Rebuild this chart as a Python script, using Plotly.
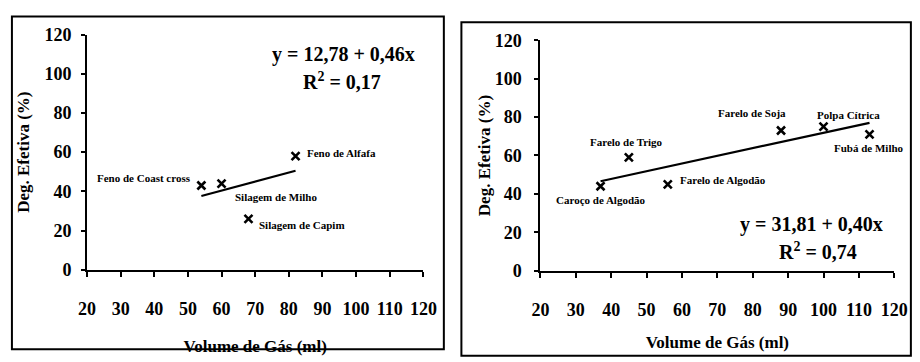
import plotly.graph_objects as go

# --- Forragens (painel esquerdo) ---
forage_names = ["Feno de Coast cross", "Silagem de Milho", "Silagem de Capim", "Feno de Alfafa"]
forage_gas = [54, 60, 68, 82]
forage_deg = [43, 44, 26, 58]
forage_fit = (12.78, 0.46)  # intercepto, inclinação
forage_eq = ["y = 12,78 + 0,46x", "R<sup>2</sup> = 0,17"]

# --- Concentrados (painel direito) ---
conc_names = ["Caroço de Algodão", "Farelo de Trigo", "Farelo de Algodão",
              "Farelo de Soja", "Polpa Cítrica", "Fubá de Milho"]
conc_gas = [37, 45, 56, 88, 100, 113]
conc_deg = [44, 59, 45, 73, 75, 71]
conc_fit = (31.81, 0.40)
conc_eq = ["y = 31,81 + 0,40x", "R<sup>2</sup> = 0,74"]

x_ticks = [20, 30, 40, 50, 60, 70, 80, 90, 100, 110, 120]
y_ticks = [0, 20, 40, 60, 80, 100, 120]
x_title = "Volume de Gás (ml)"
y_title = "Deg. Efetiva (%)"

# label placement: (xanchor, xshift, yshift) in pixels
forage_lbl = [("right", -8, 8), ("left", 11, -13), ("left", 9, -6), ("left", 9, 3)]
conc_lbl = [("center", 0, -14), ("center", -2, 15), ("left", 10, 4),
            ("center", -29, 18), ("center", 25, 12), ("center", -1, -14)]

W, H = 920, 362
FONT = "'Liberation Serif', 'Times New Roman', Times, serif"


def px_x(p):
    return p / W


def px_y(p):
    return 1 - p / H


def bold(v):
    return f"<b>{v}</b>"


fig = go.Figure()

panels = [
    dict(names=forage_names, gx=forage_gas, gy=forage_deg, fit=forage_fit, eq=forage_eq,
         lbl=forage_lbl, xa="x", ya="y", xdom=(80, 425), ydom=(26, 275),
         eqpos=[(343, 47), (342, 75)], ytick_sd=6, xt_sd=22, yt_sd=10),
    dict(names=conc_names, gx=conc_gas, gy=conc_deg, fit=conc_fit, eq=conc_eq,
         lbl=conc_lbl, xa="x2", ya="y2", xdom=(545, 908), ydom=(32, 276),
         eqpos=[(823, 227), (830, 255)], ytick_sd=9, xt_sd=17, yt_sd=0),
]

annotations = []
for i, p in enumerate(panels):
    # pontos
    fig.add_trace(go.Scatter(
        x=p["gx"], y=p["gy"], mode="markers", xaxis=p["xa"], yaxis=p["ya"],
        marker=dict(symbol="x-thin", size=8, line=dict(color="black", width=2.6)),
        showlegend=False, cliponaxis=False))
    # reta de regressão
    a, b = p["fit"]
    x0, x1 = min(p["gx"]), max(p["gx"])
    fig.add_trace(go.Scatter(
        x=[x0, x1], y=[a + b * x0, a + b * x1], mode="lines",
        xaxis=p["xa"], yaxis=p["ya"], line=dict(color="black", width=2.2),
        showlegend=False))
    # rótulos dos pontos
    for name, gx, gy, (anc, dx, dy) in zip(p["names"], p["gx"], p["gy"], p["lbl"]):
        annotations.append(dict(
            x=gx, y=gy, xref=p["xa"], yref=p["ya"], text=bold(name), showarrow=False,
            xanchor=anc, yanchor="middle", xshift=dx, yshift=dy,
            font=dict(family=FONT, size=11, color="black")))
    # equação
    for txt, (cx, cy) in zip(p["eq"], p["eqpos"]):
        annotations.append(dict(
            x=px_x(cx), y=px_y(cy), xref="paper", yref="paper", text=bold(txt),
            showarrow=False, xanchor="center", yanchor="middle",
            font=dict(family=FONT, size=20, color="black")))

    sfx = "" if i == 0 else "2"
    tick_font = dict(family=FONT, size=18, color="black", weight="bold")
    title_font = dict(family=FONT, size=17, color="black")
    fig.update_layout(**{
        f"xaxis{sfx}": dict(
            domain=[px_x(p["xdom"][0]), px_x(p["xdom"][1])], range=[20, 120],
            tickvals=x_ticks, ticktext=[bold(v) for v in x_ticks],
            ticks="outside", ticklen=5, tickwidth=1.5,
            tickcolor="black", showline=True, linecolor="black", linewidth=2,
            showgrid=False, zeroline=False, tickfont=tick_font,
            ticklabelstandoff=17, anchor=p["ya"],
            title=dict(text=bold(x_title), font=title_font, standoff=p["xt_sd"])),
        f"yaxis{sfx}": dict(
            domain=[px_y(p["ydom"][1]), px_y(p["ydom"][0])], range=[0, 120],
            tickvals=y_ticks, ticktext=[bold(v) for v in y_ticks],
            ticks="outside", ticklen=4, tickwidth=1.5,
            tickcolor="black", showline=True, linecolor="black", linewidth=2,
            showgrid=False, zeroline=False, tickfont=tick_font,
            ticklabelstandoff=p["ytick_sd"], anchor=p["xa"],
            title=dict(text=bold(y_title), font=title_font, standoff=p["yt_sd"])),
    })

# molduras dos dois painéis
shapes = [
    dict(type="rect", xref="paper", yref="paper", x0=px_x(3), x1=px_x(446),
         y0=px_y(359), y1=px_y(7), line=dict(color="black", width=2)),
    dict(type="rect", xref="paper", yref="paper", x0=px_x(464), x1=px_x(925),
         y0=px_y(366), y1=px_y(13), line=dict(color="black", width=2)),
]

fig.update_layout(
    width=W, height=H, margin=dict(l=0, r=0, t=0, b=0),
    paper_bgcolor="white", plot_bgcolor="white",
    annotations=annotations, shapes=shapes,
    font=dict(family=FONT, color="black"),
)

fig.write_html("out.html")
